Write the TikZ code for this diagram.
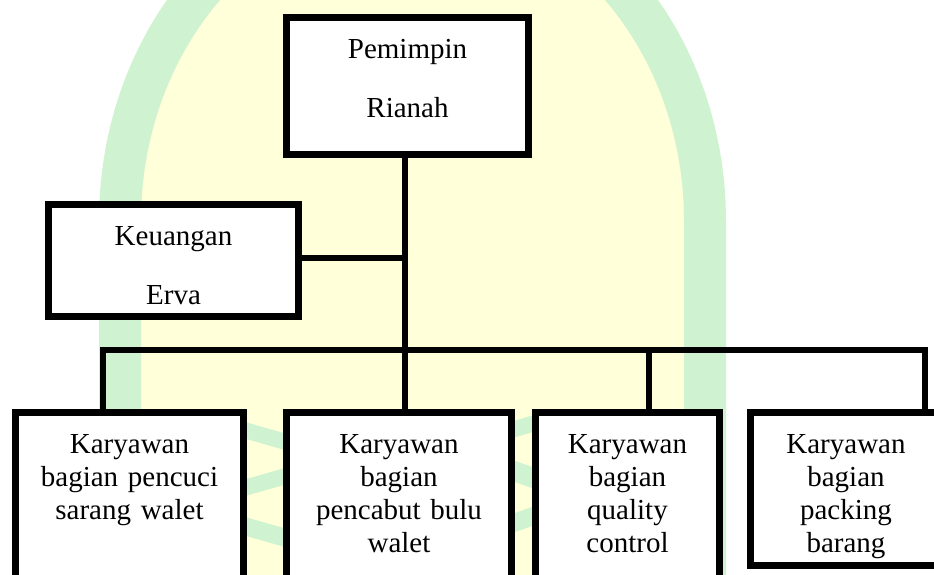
\documentclass[tikz,border=0pt]{standalone}
\usepackage{fontspec}
\setmainfont{Liberation Serif}
\usepackage{xcolor}
\usepackage{tikz}

\definecolor{wmgreen}{RGB}{207,243,208}
\definecolor{wmyellow}{RGB}{255,255,218}

\tikzset{
  box/.style={draw, line width=7pt, fill=white, inner sep=0pt, align=center,
    anchor=north, font=\fontsize{29}{33}\selectfont},
  namebox/.style={box, font=\fontsize{29}{59}\selectfont},
  link/.style={line width=6pt},
  wmband/.style={wmgreen, line width=42pt},
}

\begin{document}
\begin{tikzpicture}[x=1pt,y=-1pt]
\useasboundingbox (0,0) rectangle (934,575);
\clip (0,0) rectangle (934,575);
% watermark in the back
\fill[wmyellow] (120,620) -- plot[domain=180:360,samples=60] ({412.5+292.5*cos(\x)},{220+333*sin(\x)}) -- (705,620) -- cycle;
\draw[wmband] (120,620) -- plot[domain=180:360,samples=60] ({412.5+292.5*cos(\x)},{220+333*sin(\x)}) -- (705,620);
\draw[wmgreen, line width=16pt] (230,426) -- (300,446);
\draw[wmgreen, line width=16pt] (230,492) -- (300,472);
\draw[wmgreen, line width=18pt] (230,522) -- (300,542);
\draw[wmgreen, line width=16pt] (505,432) -- (545,420);
\draw[wmgreen, line width=20pt] (505,468) -- (545,482);
\draw[wmgreen, line width=18pt] (505,526) -- (545,512);

\node[namebox, text width=242pt, text height=40.5pt, text depth=95.5pt] (lead) at (407.5,14.5) {Pemimpin\\Rianah};
\node[namebox, text width=250pt, text height=41.5pt, text depth=70.5pt] (keu) at (173.5,200.5) {Keuangan\\Erva};

\node[box, text width=228pt, text height=41.5pt, text depth=200pt] (k1) at (129.5,408.5) {Karyawan\\bagian pencuci\\sarang walet};
\node[box, text width=225pt, text height=41.5pt, text depth=200pt] (k2) at (399,408.5) {Karyawan\\bagian\\pencabut bulu\\walet};
\node[box, text width=184pt, text height=41.5pt, text depth=200pt] (k3) at (627.5,408.5) {Karyawan\\bagian\\quality\\control};
\node[box, text width=191pt, text height=41.5pt, text depth=111.5pt] (k4) at (846,408.5) {Karyawan\\bagian\\packing\\barang};

\coordinate (d1) at (103,350);
\coordinate (d2) at (405,350);
\coordinate (d3) at (649,350);
\coordinate (d4) at (925,350);
\coordinate (kj) at (405,258);

\draw[link] (lead.south -| d2) -- (d2 |- k2.north);
\draw[link] (keu.east |- kj) -- (kj);
\draw[link] (d1 |- k1.north) -- (d1) -- (d4) -- (d4 |- k4.north);
\draw[link] (d3) -- (d3 |- k3.north);
\end{tikzpicture}
\end{document}
